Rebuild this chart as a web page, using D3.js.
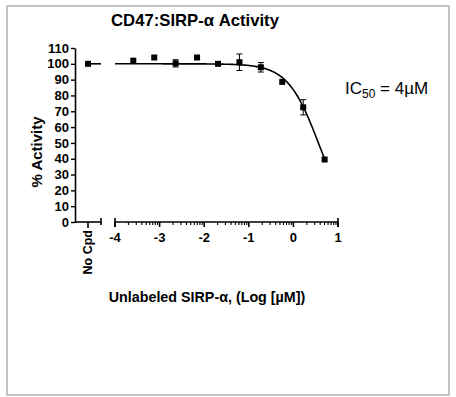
<!DOCTYPE html>
<html>
<head>
<meta charset="utf-8">
<script src="https://cdn.jsdelivr.net/npm/d3@7/dist/d3.min.js"></script>
<style>
body { margin: 0; background: #fff; }
text { font-family: Arial, "Liberation Sans", sans-serif; fill: #000; }
</style>
</head>
<body>
<script>
// 3-fold dilution series, log10 of concentration in uM
var logDose = [-3.59, -3.12, -2.64, -2.16, -1.69, -1.21, -0.73, -0.25, 0.22, 0.70];
var activity = [102, 104, 100.3, 104, 100, 101, 97.8, 88.6, 72.5, 39.5];
var errBar = [0, 0, 2.3, 0, 0.8, 5.2, 3, 0, 4.8, 0];
var noCpd = 100;
var yTicks = [0, 10, 20, 30, 40, 50, 60, 70, 80, 90, 100, 110];
var xTicks = [-4, -3, -2, -1, 0, 1];
// fitted curve parameters
var fitTop = 100, fitBottom = 0, fitLogIC50 = 0.56, fitHill = 1.26;

var W = 456, H = 397;
var svg = d3.select("body").append("svg")
	.attr("width", W)
	.attr("height", H);

svg.append("rect")
	.attr("x", 7).attr("y", 6)
	.attr("width", 442).attr("height", 389)
	.attr("fill", "none")
	.attr("stroke", "#c3c3c3")
	.attr("stroke-width", 2);

var y = d3.scaleLinear().domain([0, 110]).range([222, 48]);
var x = d3.scaleLinear().domain([-4, 1]).range([115, 338]);
var xNo = 88, axisLeft = 75, seg1End = 101;

// title
svg.append("text")
	.attr("x", 195).attr("y", 26)
	.attr("text-anchor", "middle")
	.style("font-weight", "bold")
	.style("font-size", "16.7px")
	.text("CD47:SIRP-\u03b1 Activity");

// y axis
var yAxis = svg.append("g")
	.attr("transform", "translate(" + axisLeft + ",0)")
	.call(d3.axisLeft(y).tickValues(yTicks).tickSize(4).tickPadding(2).tickSizeOuter(0));
yAxis.select(".domain").attr("stroke-width", 1.6);
yAxis.selectAll(".tick line").attr("stroke-width", 1.4);
yAxis.selectAll(".tick text")
	.style("font-family", "Arial, 'Liberation Sans', sans-serif")
	.style("font-weight", "bold")
	.style("font-size", "13px");

svg.append("text")
	.attr("transform", "translate(42,152) rotate(-90)")
	.attr("text-anchor", "middle")
	.style("font-weight", "bold")
	.style("font-size", "15px")
	.text("% Activity");

// x axis, first segment (No Cpd)
var x0 = y(0);
var ax = svg.append("g").attr("stroke", "#000").attr("stroke-width", 1.6);
ax.append("line").attr("x1", axisLeft).attr("x2", seg1End).attr("y1", x0).attr("y2", x0);
ax.append("line").attr("x1", seg1End).attr("x2", seg1End).attr("y1", x0 - 4).attr("y2", x0 + 3);
ax.append("line").attr("x1", xNo).attr("x2", xNo).attr("y1", x0).attr("y2", x0 + 6);
svg.append("text")
	.attr("transform", "translate(" + (xNo + 4) + "," + (x0 + 8) + ") rotate(-90)")
	.attr("text-anchor", "end")
	.style("font-weight", "bold")
	.style("font-size", "12.5px")
	.text("No Cpd");

// x axis, log segment
ax.append("line").attr("x1", x(-4)).attr("x2", x(1)).attr("y1", x0).attr("y2", x0);
ax.selectAll(".cap").data([-4, 1]).enter().append("line")
	.attr("x1", d => x(d)).attr("x2", d => x(d))
	.attr("y1", x0 - 4).attr("y2", x0 + 5);
var minor = [];
for (var n = -4; n < 1; n++) {
	for (var k = 2; k <= 9; k++) minor.push(n + Math.log10(k));
}
ax.selectAll(".minor").data(minor).enter().append("line")
	.attr("stroke-width", 1.1)
	.attr("x1", d => x(d)).attr("x2", d => x(d))
	.attr("y1", x0).attr("y2", x0 + 3);
ax.selectAll(".major").data(xTicks).enter().append("line")
	.attr("x1", d => x(d)).attr("x2", d => x(d))
	.attr("y1", x0).attr("y2", x0 + 5);
svg.selectAll(".xlab").data(xTicks).enter().append("text")
	.attr("x", d => x(d)).attr("y", x0 + 20)
	.attr("text-anchor", "middle")
	.style("font-weight", "bold")
	.style("font-size", "13px")
	.text(d => d < 0 ? "-" + Math.abs(d) : d);

svg.append("text")
	.attr("x", 207).attr("y", 302)
	.attr("text-anchor", "middle")
	.style("font-weight", "bold")
	.style("font-size", "14.3px")
	.text("Unlabeled SIRP-\u03b1, (Log [\u00b5M])");

// fitted curve
function fit(v) {
	return fitBottom + (fitTop - fitBottom) / (1 + Math.pow(10, fitHill * (v - fitLogIC50)));
}
var curve = d3.range(-4, logDose[logDose.length - 1] + 0.001, 0.02).map(v => [v, fit(v)]);
svg.append("path")
	.datum(curve)
	.attr("fill", "none")
	.attr("stroke", "#000")
	.attr("stroke-width", 1.6)
	.attr("d", d3.line().x(d => x(d[0])).y(d => y(d[1])));
svg.append("line")
	.attr("x1", xNo).attr("x2", seg1End)
	.attr("y1", y(noCpd)).attr("y2", y(noCpd))
	.attr("stroke", "#000").attr("stroke-width", 1.6);

// error bars
var pts = logDose.map((d, i) => ({ x: d, y: activity[i], e: errBar[i] }));
var eb = svg.append("g").attr("stroke", "#000").attr("stroke-width", 1);
pts.filter(p => p.e > 0).forEach(function(p) {
	eb.append("line").attr("x1", x(p.x)).attr("x2", x(p.x)).attr("y1", y(p.y - p.e)).attr("y2", y(p.y + p.e));
	[p.y - p.e, p.y + p.e].forEach(function(v) {
		eb.append("line").attr("x1", x(p.x) - 3).attr("x2", x(p.x) + 3).attr("y1", y(v)).attr("y2", y(v));
	});
});

// markers
svg.selectAll(".pt").data(pts).enter().append("rect")
	.attr("x", d => x(d.x) - 3).attr("y", d => y(d.y) - 3)
	.attr("width", 6).attr("height", 6)
	.attr("fill", "#000");
svg.append("rect")
	.attr("x", xNo - 3).attr("y", y(noCpd) - 3)
	.attr("width", 6).attr("height", 6)
	.attr("fill", "#000");

// IC50 note
var ic = svg.append("text")
	.attr("x", 345).attr("y", 94)
	.style("font-size", "17px");
ic.append("tspan").text("IC");
ic.append("tspan").attr("dy", 4).style("font-size", "12px").text("50");
ic.append("tspan").attr("dy", -4).text(" = 4\u00b5M");
</script>
</body>
</html>
